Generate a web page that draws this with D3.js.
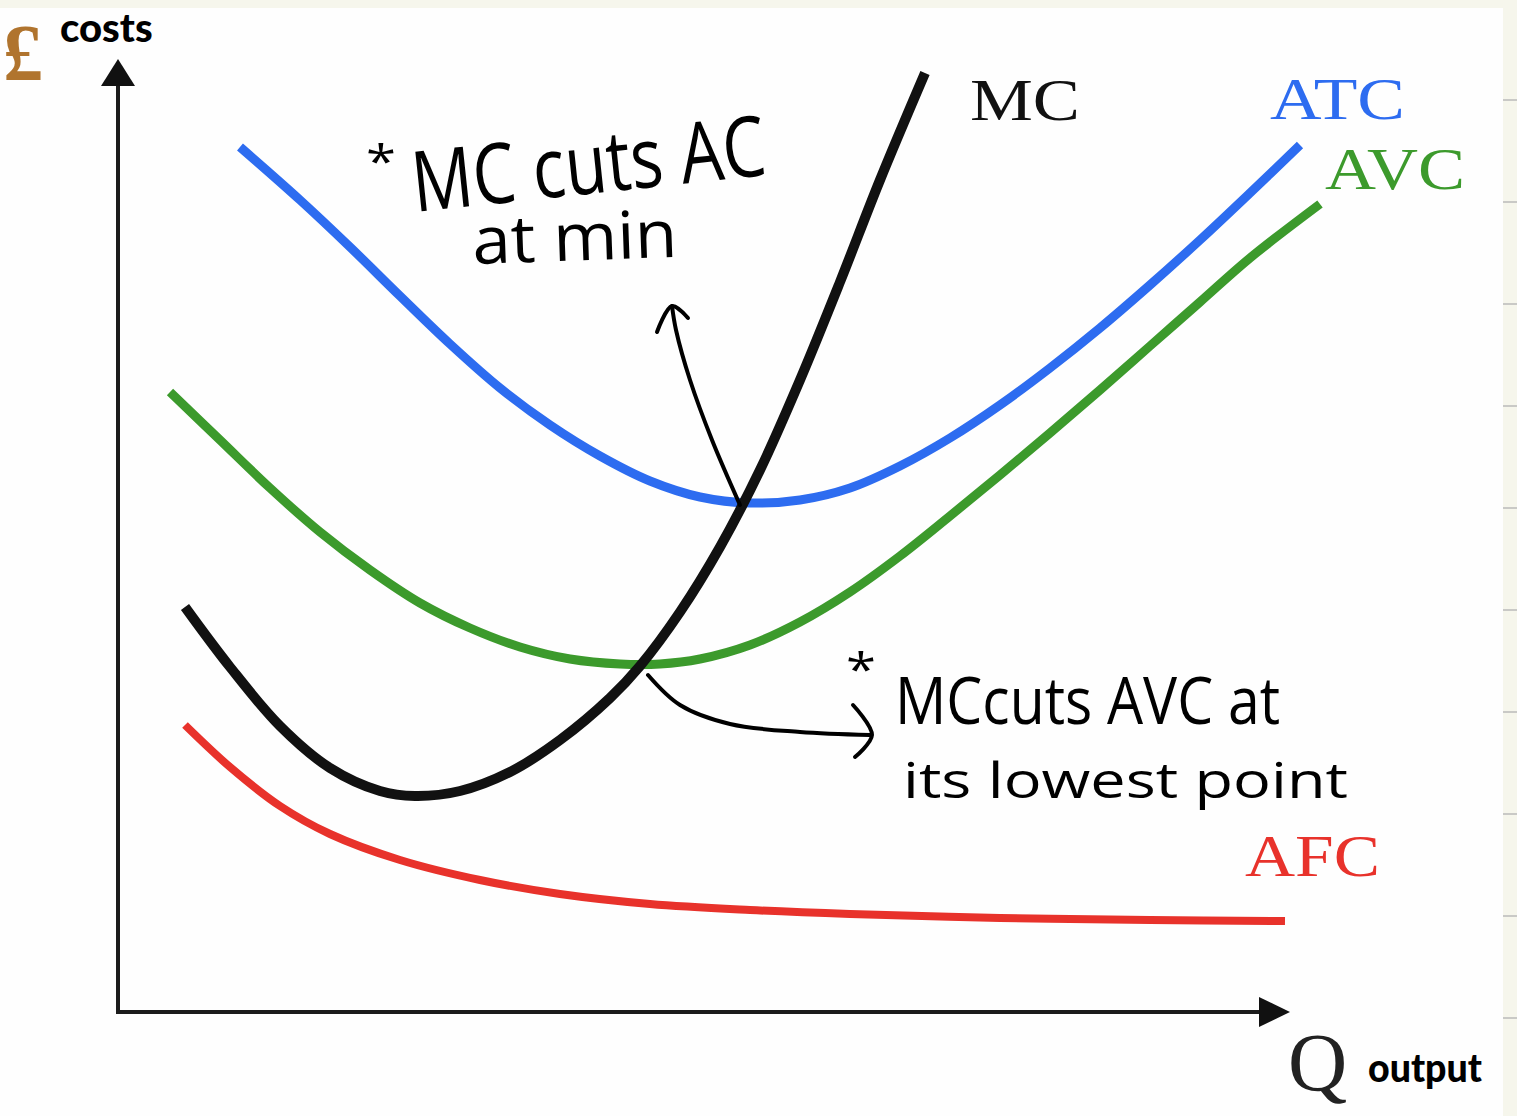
<!DOCTYPE html>
<meta charset="utf-8">
<script src="https://d3js.org/d3.v7.min.js"></script>
<style>
  body { margin: 0; background: #f6f6ec; }
</style>
<body>
<div id="chart"></div>
<script>
// cost curves (q = output, c = cost, arbitrary units)
const atc = [[12.2,86.5],[18.2,81.2],[23.2,76.5],[28.2,71.6],[33.2,66.8],[38.2,62.4],[43.2,58.7],[48.2,55.6],[53.2,53.1],[58.2,51.5],[63.2,50.9],[68.2,51.2],[73.2,52.4],[78.2,54.6],[83.2,57.4],[88.2,60.7],[93.2,64.4],[98.2,68.4],[103.2,72.7],[108.2,77.2],[113.2,81.9],[118.2,86.7]];
const avc = [[5.2,62.0],[10.2,57.2],[15.2,52.4],[20.2,48.0],[25.2,44.2],[30.2,40.9],[35.2,38.4],[40.2,36.5],[45.2,35.3],[50.2,34.8],[54.2,34.8],[58.2,35.3],[63.2,36.7],[68.2,39.0],[73.2,42.0],[78.2,45.6],[83.2,49.6],[88.2,53.7],[93.2,57.9],[98.2,62.2],[103.2,66.6],[108.2,71.0],[113.2,75.4],[120.2,80.8]];
const mc  = [[6.7,40.5],[11.2,34.5],[16.2,28.6],[21.2,24.4],[26.2,22.1],[29.7,21.6],[34.2,22.1],[39.2,24.0],[44.2,27.2],[49.2,31.4],[52.2,34.6],[56.2,40.0],[60.2,46.5],[64.2,54.2],[68.2,63.2],[72.2,73.0],[76.2,83.2],[80.7,93.9]];
const afc = [[6.7,28.7],[11.2,24.5],[16.2,20.6],[21.2,17.8],[28.2,15.2],[36.2,13.2],[44.2,11.8],[53.2,10.8],[63.2,10.2],[73.2,9.8],[88.2,9.4],[103.2,9.2],[116.7,9.1]];

const curveNames  = ["MC", "ATC", "AVC", "AFC"];
const curveColors = ["#111111", "#2d6cf0", "#3c9a2c", "#e8322b"];

// hand drawn arrows (same units as the curves)
const arrowUp   = [[62.2,50.7],[59.4,57.2],[57.2,63.2],[55.8,68.2],[55.4,70.6]];
const arrowUpHead = [[53.9,68.0],[55.4,70.6],[57.0,69.4]];
const arrowRight = [[53.0,33.7],[56.2,30.7],[61.2,28.8],[68.2,28.0],[75.2,27.7]];
const arrowRightHead = [[73.5,30.7],[75.4,27.7],[73.7,25.5]];

const w = 1517;
const h = 1116;

const xScale = d3.scaleLinear().domain([0, 120]).range([118, 1318]);
const yScale = d3.scaleLinear().domain([0, 95]).range([1012, 62]);

const svg = d3.select("#chart").append("svg")
  .attr("width", w)
  .attr("height", h)
  .style("display", "block");

// paper background + notebook strip on the right
svg.append("rect").attr("x", 0).attr("y", 8).attr("width", 1503).attr("height", h - 8).attr("fill", "#fefefe");
d3.range(100, h, 102).forEach(function(y) {
  svg.append("line")
    .attr("x1", 1503).attr("x2", w)
    .attr("y1", y).attr("y2", y)
    .attr("stroke", "#c9c9c6").attr("stroke-width", 2);
});

// axes
svg.append("path")
  .attr("d", "M" + xScale(0) + "," + (yScale(95) + 22) + "V" + yScale(0) + "H" + (xScale(114.2)))
  .attr("fill", "none")
  .attr("stroke", "#1c1c1c")
  .attr("stroke-width", 4);
// arrow heads on the axes
svg.append("path")
  .attr("d", "M" + xScale(0) + "," + (yScale(95) - 3) + "l-17,27h34z")
  .attr("fill", "#111");
svg.append("path")
  .attr("d", "M" + (xScale(117.2)) + "," + yScale(0) + "l-31,-15v30z")
  .attr("fill", "#111");

const line = d3.line()
  .x(d => xScale(d[0]))
  .y(d => yScale(d[1]))
  .curve(d3.curveCatmullRom.alpha(0.5));

const series = [mc, atc, avc, afc];
const widths = [10, 9, 9, 8];
// draw red, green, blue first and the black MC on top
[3, 2, 1, 0].forEach(function(i) {
  svg.append("path")
    .datum(series[i])
    .attr("fill", "none")
    .attr("stroke", curveColors[i])
    .attr("stroke-width", widths[i])
    .attr("d", line);
});

// curve labels
const labelPos = [[970, 120, 110], [1270, 119, 135], [1325, 189, 140], [1245, 876, 135]];
curveNames.forEach(function(name, i) {
  svg.append("text")
    .attr("x", labelPos[i][0])
    .attr("y", labelPos[i][1])
    .attr("textLength", labelPos[i][2])
    .attr("lengthAdjust", "spacingAndGlyphs")
    .attr("font-family", "Liberation Serif, serif")
    .attr("font-size", 60)
    .attr("fill", curveColors[i])
    .text(name);
});

// arrows
const penLine = d3.line()
  .x(d => xScale(d[0]))
  .y(d => yScale(d[1]))
  .curve(d3.curveCatmullRom.alpha(0.5));
[arrowUp, arrowUpHead, arrowRight, arrowRightHead].forEach(function(a) {
  svg.append("path")
    .datum(a)
    .attr("fill", "none")
    .attr("stroke", "#000")
    .attr("stroke-width", 4)
    .attr("stroke-linecap", "round")
    .attr("stroke-linejoin", "round")
    .attr("d", penLine);
});

// handwritten notes
function note(x, y, size, len, txt, rot) {
  svg.append("text")
    .attr("x", x).attr("y", y)
    .attr("transform", rot ? "rotate(" + rot + "," + x + "," + y + ")" : null)
    .attr("textLength", len)
    .attr("lengthAdjust", "spacingAndGlyphs")
    .attr("font-family", "Open Sans, sans-serif")
    .attr("font-weight", 400)
    .attr("font-size", size)
    .attr("fill", "#000")
    .text(txt);
}
note(366, 178, 46, 30, "*", 0);
note(415, 212, 84, 355, "MC cuts AC", -6);
note(473, 264, 66, 205, "at min", -2);
note(846, 686, 46, 30, "*", 0);
note(895, 724, 66, 385, "MCcuts AVC at", 0);
note(903, 798, 50, 445, "its lowest point", 0);

// axis titles
svg.append("text")
  .attr("x", 3).attr("y", 80)
  .attr("font-family", "Liberation Serif, serif")
  .attr("font-weight", "bold")
  .attr("font-size", 80)
  .attr("fill", "#b0742e")
  .text("£");
svg.append("text")
  .attr("x", 60).attr("y", 42)
  .attr("font-family", "Lato, sans-serif")
  .attr("font-weight", 900)
  .attr("font-size", 40)
  .attr("fill", "#000")
  .text("costs");
svg.append("text")
  .attr("x", 1288).attr("y", 1090)
  .attr("font-family", "Liberation Serif, serif")
  .attr("font-size", 82)
  .attr("fill", "#222")
  .text("Q");
svg.append("text")
  .attr("x", 1368).attr("y", 1082)
  .attr("textLength", 114)
  .attr("lengthAdjust", "spacingAndGlyphs")
  .attr("font-family", "Lato, sans-serif")
  .attr("font-weight", 900)
  .attr("font-size", 40)
  .attr("fill", "#000")
  .text("output");
</script>
</body>
